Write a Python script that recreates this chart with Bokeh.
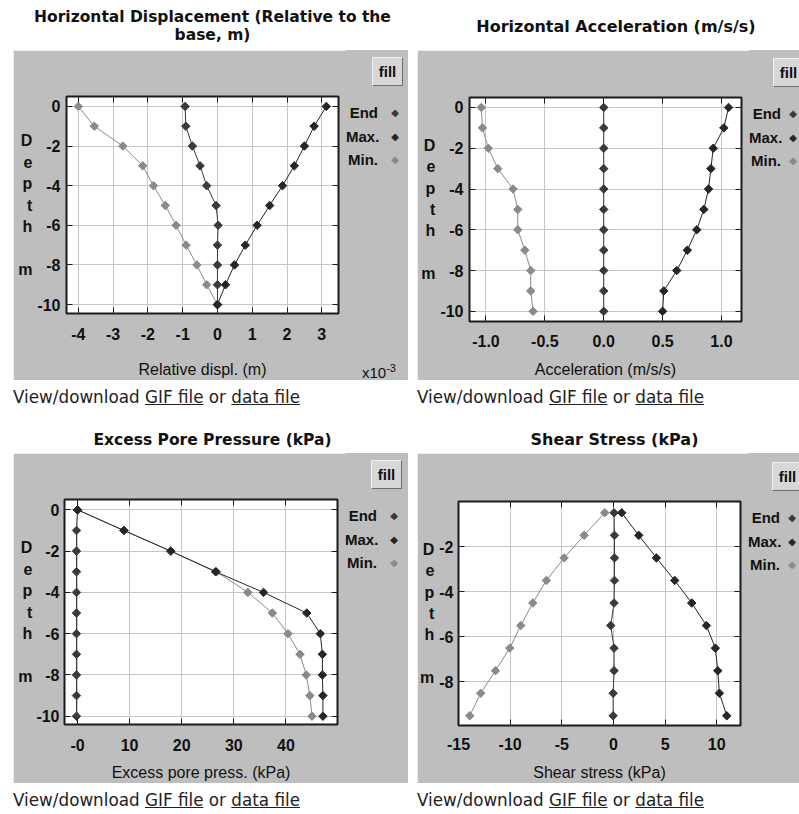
from bokeh.plotting import figure
from bokeh.models import Range1d, FixedTicker, LinearAxis, Div, Spacer
from bokeh.layouts import row, column
from bokeh.embed import file_html
from bokeh.resources import INLINE

# ---------------- data ----------------
depth = [0, -1, -2, -3, -4, -5, -6, -7, -8, -9, -10]
depth_mid = [-0.5, -1.5, -2.5, -3.5, -4.5, -5.5, -6.5, -7.5, -8.5, -9.5]

# Horizontal displacement (x10^-3 m)
disp_end = [-0.93, -0.91, -0.72, -0.50, -0.31, -0.04, 0.02, 0.0, 0.0, 0.0, 0.0]
disp_max = [3.13, 2.78, 2.50, 2.21, 1.87, 1.50, 1.14, 0.80, 0.49, 0.23, 0.0]
disp_min = [-4.00, -3.54, -2.72, -2.15, -1.84, -1.50, -1.19, -0.90, -0.59, -0.31, 0.0]

# Horizontal acceleration (m/s/s)
acc_end = [0.0, 0.0, 0.0, 0.0, 0.0, 0.0, 0.0, 0.0, 0.0, 0.0, 0.0]
acc_max = [1.06, 1.02, 0.93, 0.91, 0.89, 0.85, 0.79, 0.71, 0.62, 0.51, 0.50]
acc_min = [-1.04, -1.03, -0.98, -0.90, -0.77, -0.73, -0.73, -0.67, -0.62, -0.62, -0.60]

# Excess pore pressure (kPa)
pp_end = [0.0, -0.2, -0.2, -0.2, -0.2, -0.2, -0.2, -0.2, -0.2, -0.2, -0.2]
pp_max = [0.0, 8.9, 17.9, 26.5, 35.7, 44.0, 46.6, 47.0, 47.0, 47.1, 47.1]
pp_min = [0.0, 8.9, 17.9, 26.7, 32.7, 37.4, 40.4, 42.7, 43.9, 44.6, 45.0]

# Shear stress (kPa)
ss_end = [0.06, 0.10, 0.10, 0.10, 0.06, -0.26, 0.06, 0.06, -0.03, -0.03]
ss_max = [0.80, 2.45, 4.16, 5.93, 7.58, 9.00, 9.87, 10.10, 10.26, 10.97]
ss_min = [-0.84, -2.84, -4.78, -6.49, -7.81, -8.97, -10.04, -11.42, -12.85, -13.91]

titles = ["Horizontal Displacement (Relative to the<br>base, m)",
          "Horizontal Acceleration (m/s/s)",
          "Excess Pore Pressure (kPa)",
          "Shear Stress (kPa)"]
xlabels = ["Relative displ. (m)", "Acceleration (m/s/s)",
           "Excess pore press. (kPa)", "Shear stress (kPa)"]
ylabel = "D\ne\np\nt\nh\n\nm"
legend_names = ["End", "Max.", "Min."]

disp_xticks = [-4, -3, -2, -1, 0, 1, 2, 3]
disp_xlabels = ["-4", "-3", "-2", "-1", "0", "1", "2", "3"]
depth_ticks = [0, -2, -4, -6, -8, -10]
depth_labels = ["0", "-2", "-4", "-6", "-8", "-10"]
acc_xticks = [-1.0, -0.5, 0.0, 0.5, 1.0]
acc_xlabels = ["-1.0", "-0.5", "0.0", "0.5", "1.0"]
pp_xticks = [0, 10, 20, 30, 40]
pp_xlabels = ["-0", "10", "20", "30", "40"]
ss_xticks = [-15, -10, -5, 0, 5, 10]
ss_xlabels = ["-15", "-10", "-5", "0", "5", "10"]
ss_yticks = [-2, -4, -6, -8]
ss_ylabels = ["-2", "-4", "-6", "-8"]

# ---------------- style ----------------
GRAY = "#bebebe"
C_END = "#3a3a3a"
C_MAX = "#262626"
C_MIN = "#8a8a8a"
FONT = "Liberation Sans"
HEIGHT = 330


def make_plot(fw, borders, xr, yr, xticks, xlabs, yticks, ylabs, xlabel, series, ys,
              tick_standoff, xlab_standoff, ylab_standoff, ytick_standoff):
    l, r, t, b = borders
    p = figure(width=l + r + fw, height=HEIGHT, x_range=Range1d(*xr), y_range=Range1d(*yr),
               output_backend="svg", toolbar_location=None, margin=0,
               min_border_left=l, min_border_right=r, min_border_top=t, min_border_bottom=b,
               background_fill_color="white", border_fill_color=GRAY,
               outline_line_color="#1a1a1a", outline_line_width=2,
               x_axis_label=xlabel, y_axis_label=ylabel)
    bottom = p.below[0]
    left = p.left[0]
    bottom.ticker = FixedTicker(ticks=xticks)
    left.ticker = FixedTicker(ticks=yticks)
    bottom.major_label_overrides = dict(zip(xticks, xlabs))
    left.major_label_overrides = dict(zip(yticks, ylabs))
    p.grid.grid_line_color = "#c6c6c6"
    p.grid.grid_line_width = 1
    for ax in (bottom, left):
        ax.axis_line_color = None
        ax.major_tick_in = 6
        ax.major_tick_out = 0
        ax.major_tick_line_color = "#1a1a1a"
        ax.minor_tick_line_color = None
        ax.major_label_text_font = FONT
        ax.major_label_text_font_style = "bold"
        ax.major_label_text_font_size = "16px"
        ax.major_label_text_color = "#111111"
        ax.axis_label_text_font = FONT
        ax.axis_label_text_color = "#111111"
        ax.axis_label_text_font_size = "16px"
    bottom.major_label_standoff = tick_standoff
    bottom.axis_label_standoff = xlab_standoff
    bottom.axis_label_text_font_style = "normal"
    left.major_label_standoff = ytick_standoff
    left.axis_label_standoff = ylab_standoff
    left.axis_label_orientation = "horizontal"
    left.axis_label_text_font_style = "bold"
    left.axis_label_text_line_height = 1.26

    # inward ticks on the top and right borders (no labels)
    for side, tk in (("above", xticks), ("right", yticks)):
        ax = LinearAxis(ticker=FixedTicker(ticks=tk), axis_line_color=None,
                        major_tick_in=6, major_tick_out=0, major_tick_line_color="#1a1a1a",
                        minor_tick_line_color=None, major_label_text_font_size="1px",
                        major_label_text_color=None, major_label_standoff=0)
        p.add_layout(ax, side)

    for xs, col in series:
        p.line(xs, ys, line_color=col, line_width=1)
        p.scatter(xs, ys, marker="square", angle=0.785398, size=6,
                  fill_color=col, line_color=col)
    return p


def side_strip(width, top_off, marker_x, fill_left, extra=""):
    """Gray strip to the right of the plot: 'fill' button and the legend."""
    parts = []
    parts.append(
        '<div style="position:absolute; left:%dpx; top:%dpx; width:31px; height:29px; '
        'box-sizing:border-box; background:#d7d7d7; border:1px solid; '
        'border-color:#f2f2f2 #6e6e6e #6e6e6e #f2f2f2; font:bold 15px \'%s\'; color:#111; '
        'text-align:center; line-height:27px;">fill</div>' % (fill_left, top_off - 39, FONT))
    for name, col, dy in zip(legend_names, [C_END, C_MAX, C_MIN], [17, 40.5, 63.5]):
        yc = top_off + dy
        parts.append(
            '<div style="position:absolute; left:0px; width:32px; top:%.1fpx; '
            'text-align:right; font:bold 15px \'%s\'; color:#111; line-height:18px;">%s</div>'
            % (yc - 9, FONT, name))
        parts.append(
            '<div style="position:absolute; left:%dpx; width:12px; top:%.1fpx; '
            'text-align:center; font:10px \'DejaVu Sans\'; color:%s; line-height:14px;">&#9670;</div>'
            % (marker_x - 6, yc - 7, col))
    html = ('<div style="position:relative; width:%dpx; height:%dpx; background:%s; '
            'overflow:hidden;">%s%s</div>' % (width, HEIGHT, GRAY, "".join(parts), extra))
    return Div(text=html, width=width, height=HEIGHT, margin=0)


p1 = make_plot(272, (53, 8, 46, 66), (-4.34, 3.48), (-10.45, 0.5),
               disp_xticks, disp_xlabels, depth_ticks, depth_labels, xlabels[0],
               [(disp_min, C_MIN), (disp_end, C_END), (disp_max, C_MAX)], depth, 14, 18, 2, 6)
p2 = make_plot(272, (52, 8, 47, 57), (-1.14, 1.17), (-10.5, 0.49),
               acc_xticks, acc_xlabels, depth_ticks, depth_labels, xlabels[1],
               [(acc_min, C_MIN), (acc_end, C_END), (acc_max, C_MAX)], depth, 13, 11, 2, 6)
p3 = make_plot(273, (51, 8, 46, 58), (-2.5, 49.9), (-10.4, 0.5),
               pp_xticks, pp_xlabels, depth_ticks, depth_labels, xlabels[2],
               [(pp_min, C_MIN), (pp_end, C_END), (pp_max, C_MAX)], depth, 14, 10, 1, 5)
p4 = make_plot(282, (41, 8, 48, 56), (-15.0, 12.3), (-9.93, 0.0),
               ss_xticks, ss_xlabels, ss_yticks, ss_ylabels, xlabels[3],
               [(ss_min, C_MIN), (ss_end, C_END), (ss_max, C_MAX)], depth_mid, 12, 11, 2, 5)

x10 = ('<div style="position:absolute; left:16px; top:309px; font:15px \'%s\'; color:#111; '
       'line-height:18px; white-space:nowrap;">x10<sup style="font-size:11px;">-3</sup></div>'
       % FONT)
s1 = side_strip(62, 46, 49, 26, x10)
s2 = side_strip(50, 47, 44, 24)
s3 = side_strip(63, 46, 49, 26)
s4 = side_strip(51, 48, 44, 24)

# ---------------- page texts ----------------


def title_div(text, width, height, pad_top, pad_left, size):
    html = ('<div style="box-sizing:border-box; font-family:\'DejaVu Sans\'; font-weight:bold; '
            'font-size:%.1fpx; color:#111; text-align:center; line-height:18px; '
            'padding-top:%dpx; padding-left:%dpx; width:%dpx; white-space:nowrap;">%s</div>'
            % (size, pad_top, pad_left, width, text))
    return Div(text=html, width=width, height=height, margin=0)


def link_div(width, height):
    html = ('<div style="font-family:\'DejaVu Sans\'; font-size:16.8px; color:#222; '
            'line-height:18px; padding-top:8px; white-space:nowrap;">'
            'View/download <u>GIF file</u> or <u>data file</u></div>')
    return Div(text=html, width=width, height=height, margin=0)


colA = column(title_div(titles[0], 395, 50, 8, 4, 15.5), row(p1, s1, spacing=0),
              link_div(395, 30), spacing=0)
colB = column(title_div(titles[1], 382, 50, 18, 16, 16), row(p2, s2, spacing=0),
              link_div(382, 30), spacing=0)
colC = column(title_div(titles[2], 395, 43, 21, 4, 15.5), row(p3, s3, spacing=0),
              link_div(395, 30), spacing=0)
colD = column(title_div(titles[3], 382, 43, 21, 13, 16), row(p4, s4, spacing=0),
              link_div(382, 30), spacing=0)

top = row(Spacer(width=13, height=10, margin=0), colA,
          Spacer(width=9, height=10, margin=0), colB, spacing=0)
bot = row(Spacer(width=13, height=10, margin=0), colC,
          Spacer(width=9, height=10, margin=0), colD, spacing=0)
page = column(top, bot, spacing=0)

open("out.html", "w").write(file_html(page, INLINE))
